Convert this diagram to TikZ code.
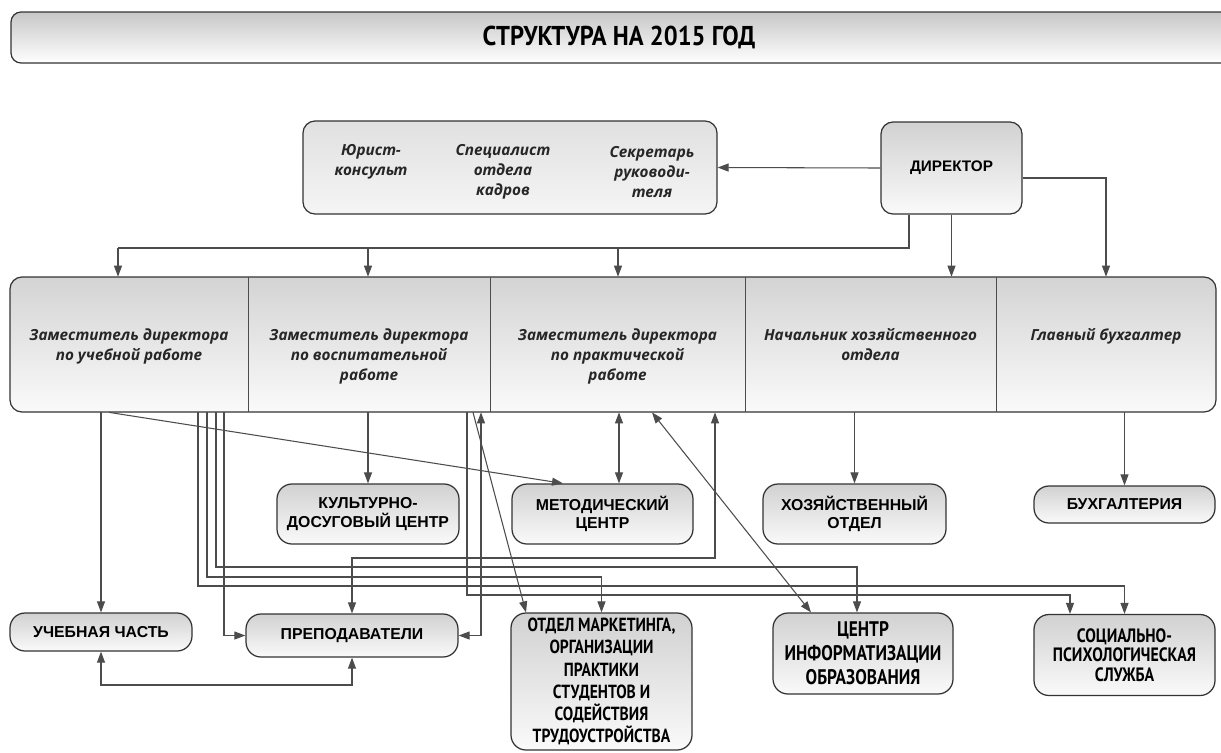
\documentclass[tikz,border=0pt]{standalone}
\usepackage{fontspec}
\setmainfont{Liberation Sans}
\newfontfamily\condfont[FakeStretch=0.82]{PT Sans}
\newfontfamily\headfont[FakeStretch=0.9]{PT Sans}
\newfontfamily\itfont{Open Sans}
\usetikzlibrary{arrows.meta,positioning}

\begin{document}
\begin{tikzpicture}[x=0.02cm,y=-0.02cm,
  boxsize/.style 2 args={minimum width=#1*0.02cm,minimum height=#2*0.02cm},
  line/.style={draw=black!70,line width=0.6pt},
  arr/.style={line,-{Triangle[length=2.2mm,width=1.6mm]}},
  arrtwo/.style={line,{Triangle[length=2.2mm,width=1.6mm]}-{Triangle[length=2.2mm,width=1.6mm]}},
  shade/.style={draw=black!80,line width=0.7pt,top color=black!18,bottom color=black!2,inner sep=0pt,align=center},
  titlebar/.style={shade,rounded corners=0.2cm,top color=black!22,bottom color=white,font=\headfont\bfseries\fontsize{15.5}{17}\selectfont},
  staffbox/.style={shade,rounded corners=0.24cm,top color=black!12,bottom color=black!4},
  dirbox/.style={shade,rounded corners=0.24cm,font=\bfseries\fontsize{8.7}{10.5}\selectfont},
  rowbox/.style={shade,rounded corners=0.24cm,top color=black!17,bottom color=black!2},
  col/.style={inner sep=0pt},
  divider/.style={draw=black!70,line width=0.6pt},
  ital/.style={inner sep=0pt,align=center,text=black!85,font=\itfont\bfseries\itshape\fontsize{8.7}{11.3}\selectfont},
  unit/.style={shade,rounded corners=0.3cm,font=\bfseries\fontsize{9}{10.5}\selectfont},
  unitn/.style={shade,rounded corners=0.3cm,font=\condfont\bfseries\fontsize{10.8}{12.6}\selectfont}
]
\fill[white] (0,0) rectangle (1221,752);
\useasboundingbox (0,0) rectangle (1221,752);

% title
\node[titlebar, boxsize={1228}{51}] (title) at (625,37.5) {\hspace*{-0.24cm}СТРУКТУРА НА 2015 ГОД};

% top level
\node[staffbox, boxsize={414}{93}] (staff) at (510,167.5) {};
\node[ital] (jur) at (371,162) {Юрист-\\консульт};
\node[ital] (kadr) at (503,172) {Специалист\\отдела\\кадров};
\node[ital] (secr) at (652,172) {Секретарь\\руководи-\\теля};
\node[dirbox, boxsize={141}{92}] (dir) at (951.5,168) {ДИРЕКТОР};

% deputies
\node[rowbox, boxsize={1206}{135}] (row) at (613,344.5) {};
\node[col, boxsize={238}{135}] (dep1) at (129,344.5) {};
\node[col, boxsize={242}{135}] (dep2) at (369,344.5) {};
\node[col, boxsize={255}{135}] (dep3) at (617.5,344.5) {};
\node[col, boxsize={251}{135}] (dep4) at (870.5,344.5) {};
\node[col, boxsize={220}{135}] (dep5) at (1106,344.5) {};
\foreach \d in {dep1,dep2,dep3,dep4}
  \draw[divider] (\d.north east) -- (\d.south east);
\node[ital, below=1.04cm of dep1.north] (dep1t) {Заместитель директора\\по учебной работе};
\node[ital, below=1.04cm of dep2.north] (dep2t) {Заместитель директора\\по воспитательной\\работе};
\node[ital, below=1.04cm of dep3.north] (dep3t) {Заместитель директора\\по практической\\работе};
\node[ital, below=1.04cm of dep4.north] (dep4t) {Начальник хозяйственного\\отдела};
\node[ital, below=1.04cm of dep5.north] (dep5t) {Главный бухгалтер};

% units
\node[unit, boxsize={182}{60}] (kdc) at (368,514) {КУЛЬТУРНО-\\ДОСУГОВЫЙ ЦЕНТР};
\node[unit, boxsize={181}{60}] (metod) at (602.5,514) {МЕТОДИЧЕСКИЙ\\ЦЕНТР};
\node[unit, boxsize={183}{60}] (hoz) at (854.5,514) {ХОЗЯЙСТВЕННЫЙ\\ОТДЕЛ};
\node[unit, boxsize={181}{37}] (buh) at (1124.5,504.5) {БУХГАЛТЕРИЯ};
\node[unit, boxsize={182}{38}] (ucheb) at (101,632) {УЧЕБНАЯ ЧАСТЬ};
\node[unit, boxsize={212}{43}] (prep) at (352,635.5) {ПРЕПОДАВАТЕЛИ};
\node[unitn, boxsize={181}{137}] (market) at (601.5,681.5) {ОТДЕЛ МАРКЕТИНГА,\\ОРГАНИЗАЦИИ\\ПРАКТИКИ\\СТУДЕНТОВ И\\СОДЕЙСТВИЯ\\ТРУДОУСТРОЙСТВА};
\node[unitn, boxsize={180}{81}, font=\condfont\bfseries\fontsize{12}{13.6}\selectfont] (cio) at (863,653.5) {ЦЕНТР\\ИНФОРМАТИЗАЦИИ\\ОБРАЗОВАНИЯ};
\node[unitn, boxsize={181}{81}, font=\condfont\bfseries\fontsize{11}{11.2}\selectfont] (soc) at (1124.5,655) {СОЦИАЛЬНО-\\ПСИХОЛОГИЧЕСКАЯ\\СЛУЖБА};

% director links
\draw[arr] (dir.west) -- (staff.east);
\draw[arr] (dir.east |- 0,178) -| (dep5.north);
\draw[arr] (dir.south) -- (dir.south |- dep4.north);
\draw[line] (dir.south -| 909,0) |- (118,248);
\foreach \d/\x in {dep1/118, dep2/368, dep3/618}
  \draw[arr] (\x,248) -- (\d.north -| \x,0);

% deputy 1
\draw[arr] (ucheb.north |- dep1.south) -- (ucheb.north);
\draw[arr] (dep1.south -| 109,0) -- (metod.north -| 563,0);
\draw[arr] (dep1.south -| 224,0) |- (prep.west);
\draw[arr] (dep1.south -| 216,0) |- (857,567) -- (cio.north -| 857,0);
\draw[arr] (dep1.south -| 207,0) |- (market.north |- 0,577) -- (market.north);
\draw[arr] (dep1.south -| 198,0) |- (soc.north |- 0,586) -- (soc.north);

% deputy 2
\draw[arr] (kdc.north |- dep2.south) -- (kdc.north);
\draw[arr] (dep2.south -| 473,0) -- (market.north -| 526,0);
\draw[arr] (dep2.south -| 467,0) |- (1070,595) -- (soc.north -| 1070,0);
\draw[arrtwo] (prep.east) -| (dep2.south -| 481,0);

% deputy 3
\draw[arrtwo] (dep3.south -| 619,0) -- (metod.north -| 619,0);
\draw[arrtwo] (dep3.south -| 652,0) -- (cio.north -| 811,0);
\draw[arrtwo] (dep3.south -| 715,0) |- (prep.north |- 0,558) -- (prep.north);

% deputies 4, 5
\draw[arr] (hoz.north |- dep4.south) -- (hoz.north);
\draw[arr] (buh.north |- dep5.south) -- (buh.north);

% teaching loop
\draw[arrtwo] (ucheb.south) |- (prep.south |- 0,685) -- (prep.south);
\end{tikzpicture}
\end{document}
